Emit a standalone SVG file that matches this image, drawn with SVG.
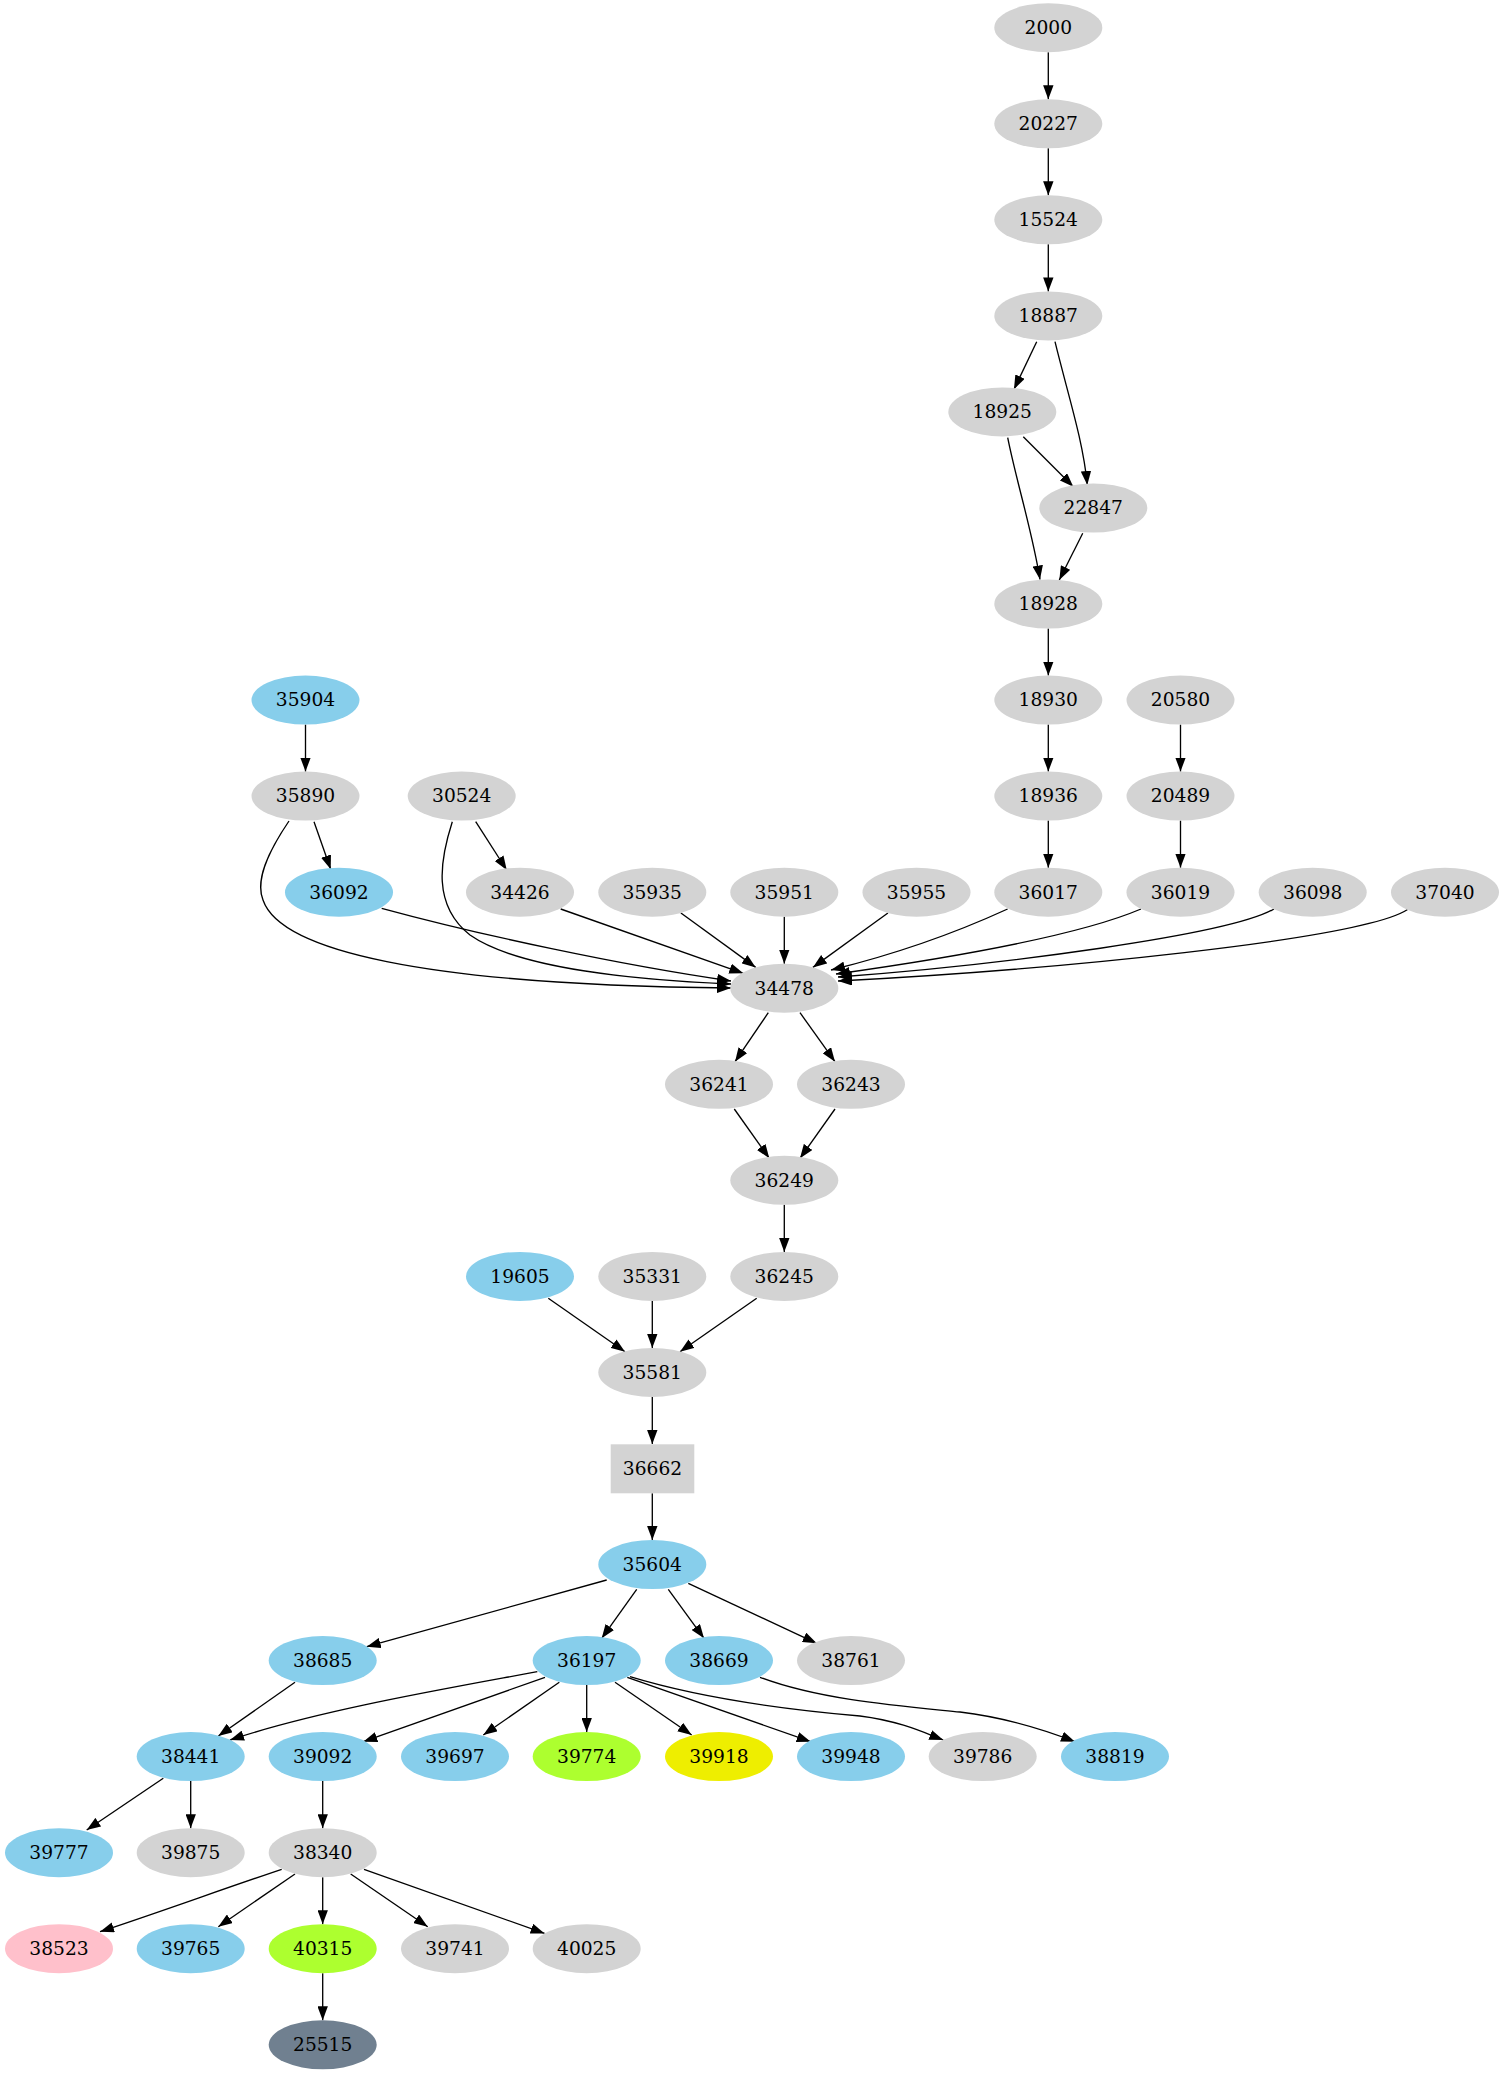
<svg xmlns="http://www.w3.org/2000/svg" width="1503" height="2075" viewBox="0 0 1503 2075">
<style>
.n text{font-family:"DejaVu Serif",serif;font-size:18.67px;text-anchor:middle;fill:#000}
.g{fill:#d3d3d3}.b{fill:#87ceeb}.gy{fill:#adff2f}.y{fill:#eeee00}.p{fill:#ffc0cb}.s{fill:#708090}
#edges path{fill:none;stroke:#000;stroke-width:1.33;marker-end:url(#ah)}
</style>
<defs>
<marker id="ah" viewBox="0 0 14 10.4" refX="14" refY="5.2" markerWidth="14" markerHeight="10.4" markerUnits="userSpaceOnUse" orient="auto"><path d="M0,0 L14,5.2 L0,10.4 z" fill="#000"/></marker>
</defs>
<rect width="1503" height="2075" fill="#fff"/>
<g id="edges">
<path d="M1048.3,52.2 L1048.3,99.3"/>
<path d="M1048.3,148.3 L1048.3,195.3"/>
<path d="M1048.3,244.3 L1048.3,291.4"/>
<path d="M1036.7,341.7 L1014,389.3"/>
<path d="M1055,341.7 C1068,395 1083,440 1087.3,485"/>
<path d="M1023.3,436.7 L1073.3,486.7"/>
<path d="M1007.7,437.7 C1016,480 1032,530 1040,579.5"/>
<path d="M1082.7,533.3 L1059.3,580"/>
<path d="M1048.3,628.5 L1048.3,675.6"/>
<path d="M1048.3,724.6 L1048.3,771.6"/>
<path d="M1048.3,820.6 L1048.3,867.7"/>
<path d="M1180.5,724.6 L1180.5,771.6"/>
<path d="M1180.5,820.6 L1180.5,867.7"/>
<path d="M305.5,724.6 L305.5,771.6"/>
<path d="M314,821.7 L330.7,869.3"/>
<path d="M475.7,821.7 L506.7,870"/>
<path d="M289,821 C268,852 255,880 263,900 C280,950 420,985 731,988"/>
<path d="M452.3,821.7 C440,860 432,905 470,935 C520,970 640,980 731,984"/>
<path d="M381.7,908.3 C480,935 620,965 731,981"/>
<path d="M560.7,909 L743.3,973.3"/>
<path d="M680.9,913 L755.7,967.4"/>
<path d="M784.3,916.7 L784.3,963.7"/>
<path d="M887.9,913 L812.9,967.4"/>
<path d="M1007.6,909 C940,940 880,958 831,970"/>
<path d="M1141,909 C1080,935 950,958 836,974"/>
<path d="M1274,909 C1230,935 1000,965 838,977"/>
<path d="M1407.6,909.5 C1360,940 1050,970 838,981"/>
<path d="M768.3,1012.7 L735,1061.7"/>
<path d="M800,1012.7 L835,1061.7"/>
<path d="M734.3,1109 L769.3,1158.3"/>
<path d="M835,1109 L800,1158.3"/>
<path d="M784.3,1204.8 L784.3,1251.9"/>
<path d="M548.3,1298.3 L625,1351.7"/>
<path d="M652.3,1300.9 L652.3,1347.9"/>
<path d="M756.7,1298.3 L680,1351.7"/>
<path d="M652.3,1396.9 L652.3,1444"/>
<path d="M652.3,1493.3 L652.3,1540"/>
<path d="M606.7,1580 L366.7,1646.7"/>
<path d="M636.7,1589.3 L601.7,1638.3"/>
<path d="M668.3,1589.3 L704,1638.3"/>
<path d="M688.3,1583.3 L816.7,1643.3"/>
<path d="M295,1682.3 L218.3,1736"/>
<path d="M537.3,1671.7 C450,1688 320,1710 230,1740"/>
<path d="M545,1677.3 C480,1700 420,1722 363.3,1741.7"/>
<path d="M559.3,1682.3 L483.3,1735"/>
<path d="M586.7,1685.1 L586.7,1732.1"/>
<path d="M615,1682.3 L691.7,1735"/>
<path d="M627.3,1677.3 L810.7,1741.7"/>
<path d="M630,1676.7 C700,1698 790,1710 860,1716 C900,1721 925,1733 943.3,1740"/>
<path d="M760,1677.3 C820,1700 900,1706 960,1712 C1010,1718 1050,1732 1075,1741.7"/>
<path d="M163.3,1778.3 L86.7,1830"/>
<path d="M190.7,1781.1 L190.7,1828.2"/>
<path d="M322.7,1781.1 L322.7,1828.2"/>
<path d="M281.7,1869.3 C220,1890 160,1912 100,1931.7"/>
<path d="M295,1874 L218.3,1926.7"/>
<path d="M322.7,1877.2 L322.7,1924.2"/>
<path d="M350.7,1874 L427.7,1926.7"/>
<path d="M364,1869.3 L544.6,1933.4"/>
<path d="M322.7,1973.2 L322.7,2020.3"/>
</g>
<g id="n2000" class="n"><ellipse class="g" cx="1048.3" cy="27.7" rx="54" ry="24.5"/><text x="1048.3" y="34">2000</text></g>
<g id="n20227" class="n"><ellipse class="g" cx="1048.3" cy="123.8" rx="54" ry="24.5"/><text x="1048.3" y="130.1">20227</text></g>
<g id="n15524" class="n"><ellipse class="g" cx="1048.3" cy="219.8" rx="54" ry="24.5"/><text x="1048.3" y="226.1">15524</text></g>
<g id="n18887" class="n"><ellipse class="g" cx="1048.3" cy="315.9" rx="54" ry="24.5"/><text x="1048.3" y="322.2">18887</text></g>
<g id="n18925" class="n"><ellipse class="g" cx="1002.3" cy="411.9" rx="54" ry="24.5"/><text x="1002.3" y="418.2">18925</text></g>
<g id="n22847" class="n"><ellipse class="g" cx="1093.3" cy="508" rx="54" ry="24.5"/><text x="1093.3" y="514.3">22847</text></g>
<g id="n18928" class="n"><ellipse class="g" cx="1048.3" cy="604" rx="54" ry="24.5"/><text x="1048.3" y="610.3">18928</text></g>
<g id="n35904" class="n"><ellipse class="b" cx="305.5" cy="700.1" rx="54" ry="24.5"/><text x="305.5" y="706.4">35904</text></g>
<g id="n18930" class="n"><ellipse class="g" cx="1048.3" cy="700.1" rx="54" ry="24.5"/><text x="1048.3" y="706.4">18930</text></g>
<g id="n20580" class="n"><ellipse class="g" cx="1180.5" cy="700.1" rx="54" ry="24.5"/><text x="1180.5" y="706.4">20580</text></g>
<g id="n35890" class="n"><ellipse class="g" cx="305.5" cy="796.1" rx="54" ry="24.5"/><text x="305.5" y="802.4">35890</text></g>
<g id="n30524" class="n"><ellipse class="g" cx="461.7" cy="796.1" rx="54" ry="24.5"/><text x="461.7" y="802.4">30524</text></g>
<g id="n18936" class="n"><ellipse class="g" cx="1048.3" cy="796.1" rx="54" ry="24.5"/><text x="1048.3" y="802.4">18936</text></g>
<g id="n20489" class="n"><ellipse class="g" cx="1180.5" cy="796.1" rx="54" ry="24.5"/><text x="1180.5" y="802.4">20489</text></g>
<g id="n36092" class="n"><ellipse class="b" cx="339" cy="892.2" rx="54" ry="24.5"/><text x="339" y="898.5">36092</text></g>
<g id="n34426" class="n"><ellipse class="g" cx="520" cy="892.2" rx="54" ry="24.5"/><text x="520" y="898.5">34426</text></g>
<g id="n35935" class="n"><ellipse class="g" cx="652.3" cy="892.2" rx="54" ry="24.5"/><text x="652.3" y="898.5">35935</text></g>
<g id="n35951" class="n"><ellipse class="g" cx="784.3" cy="892.2" rx="54" ry="24.5"/><text x="784.3" y="898.5">35951</text></g>
<g id="n35955" class="n"><ellipse class="g" cx="916.5" cy="892.2" rx="54" ry="24.5"/><text x="916.5" y="898.5">35955</text></g>
<g id="n36017" class="n"><ellipse class="g" cx="1048.3" cy="892.2" rx="54" ry="24.5"/><text x="1048.3" y="898.5">36017</text></g>
<g id="n36019" class="n"><ellipse class="g" cx="1180.5" cy="892.2" rx="54" ry="24.5"/><text x="1180.5" y="898.5">36019</text></g>
<g id="n36098" class="n"><ellipse class="g" cx="1312.7" cy="892.2" rx="54" ry="24.5"/><text x="1312.7" y="898.5">36098</text></g>
<g id="n37040" class="n"><ellipse class="g" cx="1445" cy="892.2" rx="54" ry="24.5"/><text x="1445" y="898.5">37040</text></g>
<g id="n34478" class="n"><ellipse class="g" cx="784.3" cy="988.2" rx="54" ry="24.5"/><text x="784.3" y="994.5">34478</text></g>
<g id="n36241" class="n"><ellipse class="g" cx="719" cy="1084.3" rx="54" ry="24.5"/><text x="719" y="1090.6">36241</text></g>
<g id="n36243" class="n"><ellipse class="g" cx="851" cy="1084.3" rx="54" ry="24.5"/><text x="851" y="1090.6">36243</text></g>
<g id="n36249" class="n"><ellipse class="g" cx="784.3" cy="1180.3" rx="54" ry="24.5"/><text x="784.3" y="1186.6">36249</text></g>
<g id="n19605" class="n"><ellipse class="b" cx="520" cy="1276.4" rx="54" ry="24.5"/><text x="520" y="1282.7">19605</text></g>
<g id="n35331" class="n"><ellipse class="g" cx="652.3" cy="1276.4" rx="54" ry="24.5"/><text x="652.3" y="1282.7">35331</text></g>
<g id="n36245" class="n"><ellipse class="g" cx="784.3" cy="1276.4" rx="54" ry="24.5"/><text x="784.3" y="1282.7">36245</text></g>
<g id="n35581" class="n"><ellipse class="g" cx="652.3" cy="1372.4" rx="54" ry="24.5"/><text x="652.3" y="1378.7">35581</text></g>
<g id="n36662" class="n"><rect class="g" x="610.7" y="1444.3" width="83.6" height="49"/><text x="652.5" y="1474.8">36662</text></g>
<g id="n35604" class="n"><ellipse class="b" cx="652.3" cy="1564.5" rx="54" ry="24.5"/><text x="652.3" y="1570.8">35604</text></g>
<g id="n38685" class="n"><ellipse class="b" cx="322.7" cy="1660.6" rx="54" ry="24.5"/><text x="322.7" y="1666.9">38685</text></g>
<g id="n36197" class="n"><ellipse class="b" cx="586.7" cy="1660.6" rx="54" ry="24.5"/><text x="586.7" y="1666.9">36197</text></g>
<g id="n38669" class="n"><ellipse class="b" cx="719" cy="1660.6" rx="54" ry="24.5"/><text x="719" y="1666.9">38669</text></g>
<g id="n38761" class="n"><ellipse class="g" cx="851" cy="1660.6" rx="54" ry="24.5"/><text x="851" y="1666.9">38761</text></g>
<g id="n38441" class="n"><ellipse class="b" cx="190.7" cy="1756.6" rx="54" ry="24.5"/><text x="190.7" y="1762.9">38441</text></g>
<g id="n39092" class="n"><ellipse class="b" cx="322.7" cy="1756.6" rx="54" ry="24.5"/><text x="322.7" y="1762.9">39092</text></g>
<g id="n39697" class="n"><ellipse class="b" cx="455" cy="1756.6" rx="54" ry="24.5"/><text x="455" y="1762.9">39697</text></g>
<g id="n39774" class="n"><ellipse class="gy" cx="586.7" cy="1756.6" rx="54" ry="24.5"/><text x="586.7" y="1762.9">39774</text></g>
<g id="n39918" class="n"><ellipse class="y" cx="719" cy="1756.6" rx="54" ry="24.5"/><text x="719" y="1762.9">39918</text></g>
<g id="n39948" class="n"><ellipse class="b" cx="851" cy="1756.6" rx="54" ry="24.5"/><text x="851" y="1762.9">39948</text></g>
<g id="n39786" class="n"><ellipse class="g" cx="982.7" cy="1756.6" rx="54" ry="24.5"/><text x="982.7" y="1762.9">39786</text></g>
<g id="n38819" class="n"><ellipse class="b" cx="1115" cy="1756.6" rx="54" ry="24.5"/><text x="1115" y="1762.9">38819</text></g>
<g id="n39777" class="n"><ellipse class="b" cx="59" cy="1852.7" rx="54" ry="24.5"/><text x="59" y="1859">39777</text></g>
<g id="n39875" class="n"><ellipse class="g" cx="190.7" cy="1852.7" rx="54" ry="24.5"/><text x="190.7" y="1859">39875</text></g>
<g id="n38340" class="n"><ellipse class="g" cx="322.7" cy="1852.7" rx="54" ry="24.5"/><text x="322.7" y="1859">38340</text></g>
<g id="n38523" class="n"><ellipse class="p" cx="59" cy="1948.7" rx="54" ry="24.5"/><text x="59" y="1955">38523</text></g>
<g id="n39765" class="n"><ellipse class="b" cx="190.7" cy="1948.7" rx="54" ry="24.5"/><text x="190.7" y="1955">39765</text></g>
<g id="n40315" class="n"><ellipse class="gy" cx="322.7" cy="1948.7" rx="54" ry="24.5"/><text x="322.7" y="1955">40315</text></g>
<g id="n39741" class="n"><ellipse class="g" cx="455" cy="1948.7" rx="54" ry="24.5"/><text x="455" y="1955">39741</text></g>
<g id="n40025" class="n"><ellipse class="g" cx="586.7" cy="1948.7" rx="54" ry="24.5"/><text x="586.7" y="1955">40025</text></g>
<g id="n25515" class="n"><ellipse class="s" cx="322.7" cy="2044.8" rx="54" ry="24.5"/><text x="322.7" y="2051.1">25515</text></g>
</svg>
